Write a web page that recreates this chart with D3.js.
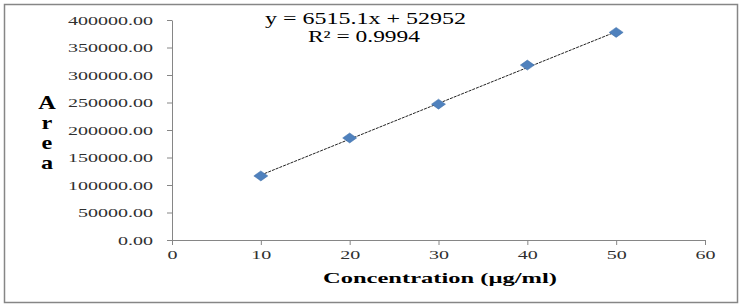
<!DOCTYPE html>
<html>
<head>
<meta charset="utf-8">
<script src="https://cdn.jsdelivr.net/npm/d3@7"></script>
<style>
  body { margin: 0; background: #fff; }
  text { font-family: "Liberation Serif", "Times New Roman", serif; }
</style>
</head>
<body>
<div id="chart"></div>
<script>
// data
var concentration = [10, 20, 30, 40, 50];
var area = [116500, 185500, 247000, 318000, 377500];
var xTicks = [0, 10, 20, 30, 40, 50, 60];
var yTicks = [0, 50000, 100000, 150000, 200000, 250000, 300000, 350000, 400000];
var slope = 6515.1, intercept = 52952, r2 = 0.9994;

var W = 741, H = 306;
var margin = {top: 20, right: 36, bottom: 66, left: 172},
  width = 705 - margin.left,
  height = 240 - margin.top;

var svg = d3.select("#chart").append("svg")
  .attr("width", W).attr("height", H);

// outer frame
svg.append("rect")
  .attr("x", 4.5).attr("y", 4.5)
  .attr("width", 733).attr("height", 298)
  .attr("fill", "#fff").attr("stroke", "#868686").attr("stroke-width", 1.5);

var g = svg.append("g")
  .attr("transform", "translate(" + margin.left + "," + margin.top + ")");

var x = d3.scaleLinear().domain([0, 60]).range([0, width]);
var y = d3.scaleLinear().domain([0, 400000]).range([height, 0]);

// the original picture is stretched sideways, so text gets a horizontal scale
function stretch(sel, s) {
  sel.each(function() {
    var t = d3.select(this);
    var xx = +t.attr("x") || 0;
    t.attr("x", xx / s).attr("transform", "scale(" + s + ",1)");
  });
}

// x axis
var xAxis = g.append("g")
  .attr("transform", "translate(0," + height + ")")
  .call(d3.axisBottom(x).tickValues(xTicks).tickSize(5).tickSizeOuter(0).tickPadding(5));

// y axis
var yAxis = g.append("g")
  .call(d3.axisLeft(y).tickValues(yTicks).tickSize(5).tickSizeOuter(0).tickPadding(14)
    .tickFormat(function(d) { return d3.format(".2f")(d); }));

[xAxis, yAxis].forEach(function(a) {
  a.attr("font-family", "Liberation Serif");
  a.select(".domain").attr("stroke", "#868686");
  a.selectAll(".tick line").attr("stroke", "#868686");
  a.selectAll(".tick text")
    .attr("fill", "#303030")
    .style("font-family", "'Liberation Serif', serif")
    .style("font-size", "12.5px");
});
stretch(yAxis.selectAll(".tick text"), 1.6);
stretch(xAxis.selectAll(".tick text"), 1.6);

// trendline from the fitted equation
g.append("path")
  .datum(d3.extent(concentration))
  .attr("fill", "none")
  .attr("stroke", "#222")
  .attr("stroke-width", 1)
  .attr("stroke-dasharray", "3,1")
  .attr("d", d3.line()
    .x(function(d) { return x(d); })
    .y(function(d) { return y(slope * d + intercept); }));

// diamond markers
g.selectAll(".pt")
  .data(concentration)
  .enter().append("path")
  .attr("class", "pt")
  .attr("d", "M0,-5L7,0L0,5L-7,0Z")
  .attr("transform", function(d, i) { return "translate(" + x(d) + "," + y(area[i]) + ")"; })
  .attr("fill", "#4F81BD")
  .attr("stroke", "#3f6fa8")
  .attr("stroke-width", 0.5);

// equation label
svg.append("text")
  .attr("x", 265).attr("y", 24)
  .attr("textLength", 201).attr("lengthAdjust", "spacingAndGlyphs")
  .style("font-size", "16px")
  .text("y = " + slope + "x + " + intercept);
svg.append("text")
  .attr("x", 308).attr("y", 42)
  .attr("textLength", 112).attr("lengthAdjust", "spacingAndGlyphs")
  .style("font-size", "16px")
  .text("R² = " + r2);

// x title
svg.append("text")
  .attr("x", 323).attr("y", 283)
  .attr("textLength", 234).attr("lengthAdjust", "spacingAndGlyphs")
  .style("font-size", "15px").style("font-weight", "bold")
  .text("Concentration (µg/ml)");

// y title, stacked letters
svg.append("g").selectAll("text")
  .data("Area".split(""))
  .enter().append("text")
  .attr("transform", function(d, i) { return "translate(47," + (109 + i * 20) + ") scale(1.35,1)"; })
  .attr("text-anchor", "middle")
  .style("font-size", "18px").style("font-weight", "bold")
  .text(function(d) { return d; });
</script>
</body>
</html>
